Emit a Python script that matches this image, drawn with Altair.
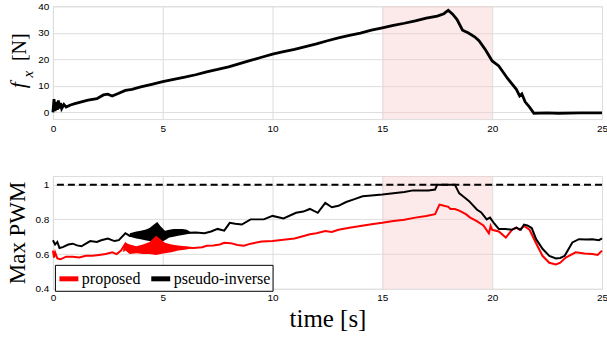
import altair as alt
import pandas as pd

# ---------------- data ----------------
t_fx = [0, 0.05, 0.1, 0.15, 0.2, 0.25, 0.3, 0.35, 0.4, 0.5, 0.6, 0.8, 1.0, 1.3, 1.6, 2.0, 2.3, 2.5,
        2.7, 3.0, 3.3, 3.6, 4.0, 4.5, 5.0, 5.5, 6.0, 6.5, 7.0, 7.5, 8.0, 8.5, 9.0, 9.5, 10.0, 10.5,
        11.0, 11.5, 12.0, 12.5, 13.0, 13.5, 14.0, 14.5, 15.0, 15.5, 16.0, 16.5, 17.0, 17.5, 17.8,
        18.0, 18.2, 18.4, 18.65, 18.9, 19.2, 19.4, 19.7, 20.0, 20.3, 20.7, 21.1, 21.25, 21.35, 21.5,
        21.7, 21.9, 22.5, 23.0, 24.0, 25.0]
fx = [0, 5, 0.5, 4, 1, 4.5, 1.5, 3.5, 1.5, 3, 2, 2.8, 3.3, 4, 4.6, 5.2, 6.6, 6.9,
      6.2, 7.2, 8.3, 8.7, 9.6, 10.6, 11.6, 12.5, 13.3, 14.2, 15.3, 16.2, 17.2, 18.4, 19.6, 20.8, 22.0, 22.9,
      23.8, 24.8, 25.8, 27.0, 28.1, 29.0, 29.9, 31.0, 31.9, 32.8, 33.6, 34.5, 35.5, 36.3, 37.2,
      38.5, 37.0, 35.0, 31.0, 30.0, 28.5, 27.0, 23.5, 19.4, 17.5, 12.8, 8.7, 6.2, 7.0, 4.0,
      2.0, -0.3, -0.2, -0.3, -0.2, -0.2]

t_prop = [0, 0.05, 0.1, 0.2, 0.35, 0.6, 0.9, 1.2, 1.5, 1.8, 2.1, 2.4, 2.7, 2.9, 3.1, 3.3, 3.45,
          3.7, 4.0, 4.3, 4.6, 4.9, 5.2, 5.5, 5.8, 6.1,
          6.4, 6.8, 7.0, 7.3, 7.6, 7.8, 8.1, 8.4, 8.7, 9.0, 9.5, 10.0, 10.5, 11.0, 11.3, 11.7, 12.0,
          12.4, 12.7, 13.0, 13.5, 14.0, 14.5, 15.0, 15.5, 16.0, 16.5, 17.0, 17.4, 17.6, 17.8, 18.0,
          18.1, 18.3, 18.5, 18.8, 19.0, 19.3, 19.6, 19.85, 19.93, 20.0, 20.3, 20.62, 20.92, 21.1,
          21.25, 21.45, 21.7, 21.98, 22.29, 22.6, 22.9, 23.1, 23.35, 23.8, 24.2, 24.56, 24.8, 25.0]
v_prop = [0.62, 0.58, 0.61, 0.575, 0.57, 0.585, 0.585, 0.58, 0.59, 0.59, 0.595, 0.6, 0.61, 0.6, 0.62, 0.66, 0.63,
          0.625, 0.63, 0.635, 0.64, 0.645, 0.635, 0.635, 0.635, 0.638,
          0.635, 0.64, 0.648, 0.65, 0.655, 0.665, 0.663, 0.652, 0.648, 0.66, 0.672, 0.675, 0.683, 0.69, 0.7, 0.714, 0.72,
          0.733, 0.728, 0.74, 0.752, 0.762, 0.772, 0.78, 0.79, 0.798, 0.81, 0.82, 0.83, 0.885, 0.878, 0.872,
          0.86, 0.86, 0.85, 0.83, 0.81, 0.79, 0.765, 0.72, 0.762, 0.74, 0.73, 0.695, 0.743, 0.752,
          0.74, 0.762, 0.74, 0.667, 0.59, 0.55, 0.54, 0.55, 0.58, 0.61, 0.603, 0.6, 0.595, 0.62]

t_pinv = [0, 0.1, 0.2, 0.3, 0.45, 0.7, 0.9, 1.1, 1.3, 1.5, 1.7, 2.0, 2.2, 2.5, 2.8, 3.0, 3.3, 3.5,
          3.8, 4.1, 4.4, 4.7, 5.0, 5.3, 5.6, 5.9, 6.2,
          6.5, 6.9, 7.2, 7.5, 7.8, 8.05, 8.3, 8.6, 9.0, 9.6, 10.0, 10.5, 11.07, 11.4, 11.7, 12.06,
          12.4, 12.7, 13.0, 13.35, 13.7, 14.1, 14.5, 15.0, 15.5, 16.0, 16.4, 17.1, 17.4, 17.5, 18.3,
          18.5, 18.7, 18.95, 19.3, 19.5, 19.75, 19.9, 20.1, 20.3, 20.6, 20.9, 21.1, 21.3, 21.45, 21.6,
          21.8, 22.0, 22.3, 22.6, 22.9, 23.1, 23.3, 23.65, 23.95, 24.3, 24.56, 24.86, 25.0]
v_pinv = [0.68, 0.655, 0.67, 0.635, 0.64, 0.655, 0.66, 0.65, 0.645, 0.66, 0.675, 0.67, 0.68, 0.69, 0.675, 0.68, 0.72, 0.705,
          0.71, 0.71, 0.712, 0.72, 0.705, 0.718, 0.723, 0.728, 0.723,
          0.725, 0.72, 0.73, 0.745, 0.735, 0.78, 0.775, 0.77, 0.8, 0.8, 0.82, 0.805, 0.838, 0.845, 0.86, 0.838,
          0.895, 0.87, 0.878, 0.9, 0.915, 0.933, 0.938, 0.943, 0.95, 0.958, 0.967, 0.967, 0.972, 1.0, 1.0,
          0.95, 0.93, 0.905, 0.857, 0.84, 0.8, 0.81, 0.775, 0.745, 0.745, 0.74, 0.752, 0.74, 0.77, 0.765,
          0.75, 0.686, 0.629, 0.59, 0.575, 0.578, 0.59, 0.667, 0.686, 0.684, 0.686, 0.68, 0.69]

# oscillation envelopes (dense vibration between 3 s and 6 s)
t_env_prop = [3.2, 3.3, 3.5, 3.8, 4.1, 4.4, 4.7, 4.9, 5.1, 5.4, 5.7, 6.0, 6.3]
hi_env_prop = [0.63, 0.665, 0.655, 0.645, 0.655, 0.67, 0.705, 0.685, 0.665, 0.655, 0.65, 0.645, 0.64]
lo_env_prop = [0.61, 0.62, 0.6, 0.605, 0.6, 0.6, 0.595, 0.6, 0.605, 0.61, 0.62, 0.625, 0.632]
t_env_pinv = [3.5, 3.8, 4.0, 4.2, 4.4, 4.6, 4.75, 4.9, 5.1, 5.3, 5.5, 5.7, 5.9, 6.1, 6.3]
hi_env_pinv = [0.72, 0.73, 0.735, 0.74, 0.75, 0.77, 0.785, 0.76, 0.735, 0.74, 0.745, 0.745, 0.745, 0.74, 0.725]
lo_env_pinv = [0.70, 0.69, 0.685, 0.68, 0.675, 0.67, 0.665, 0.67, 0.68, 0.695, 0.7, 0.705, 0.71, 0.715, 0.72]

band_start = [15]
band_end = [20]
limit_value = [1.0]
series_names = ["proposed", "pseudo-inverse"]
series_colors = ["#ff0000", "#000000"]

x_ticks = [0, 5, 10, 15, 20, 25]
fx_ticks = [0, 10, 20, 30, 40]
pwm_ticks = [0.4, 0.6, 0.8, 1.0]

# ---------------- frames ----------------
df_fx = pd.DataFrame({"t": t_fx, "f": fx})
df_pwm = pd.concat([
    pd.DataFrame({"t": t_prop, "v": v_prop, "s": series_names[0]}),
    pd.DataFrame({"t": t_pinv, "v": v_pinv, "s": series_names[1]}),
])
df_env_prop = pd.DataFrame({"t": t_env_prop, "lo": lo_env_prop, "hi": hi_env_prop})
df_env_pinv = pd.DataFrame({"t": t_env_pinv, "lo": lo_env_pinv, "hi": hi_env_pinv})
df_band = pd.DataFrame({"a": band_start, "b": band_end})
df_lim = pd.DataFrame({"y": limit_value})
one = pd.DataFrame({"k": [0]})

W, H = 550, 113
SERIF = "Liberation Serif"
SANS = "Liberation Sans"

x_scale = alt.Scale(domain=[0, 25], nice=False, zero=False)
fx_scale = alt.Scale(domain=[-2.5, 40], nice=False, zero=False)
pwm_scale = alt.Scale(domain=[0.4, 1.05], nice=False, zero=False)
color_scale = alt.Scale(domain=series_names, range=series_colors)


def xaxis(title=None):
    kw = dict(values=x_ticks, grid=True, labelPadding=4, ticks=False, domain=False,
              labelFlush=False)
    if title:
        kw.update(title=title, titleFont=SERIF, titleFontSize=25, titleFontWeight="normal",
                  titleColor="#000000", titlePadding=4)
    else:
        kw.update(title=None)
    return alt.Axis(**kw)


fx_axis = alt.Axis(values=fx_ticks, grid=True, title=None, labelPadding=4, ticks=False,
                   domain=False, labelFlush=False)
pwm_axis = alt.Axis(values=pwm_ticks, format="~g", grid=True, title=None, labelPadding=4,
                    ticks=False, domain=False, labelFlush=False)

band_color = "#f8c8c8"

# ---- top panel ----
top_band = alt.Chart(df_band).mark_rect(color=band_color, opacity=0.4).encode(
    x=alt.X("a:Q", scale=x_scale, axis=xaxis()), x2="b:Q")
top_line = alt.Chart(df_fx).mark_line(color="#000000", strokeWidth=2.8).encode(
    x=alt.X("t:Q", scale=x_scale, axis=xaxis()),
    y=alt.Y("f:Q", scale=fx_scale, axis=fx_axis))
t_f = alt.Chart(one).mark_text(text="f", font=SERIF, fontSize=22, fontStyle="italic", angle=270,
                               align="center", baseline="middle", color="#000000").encode(
    x=alt.value(-35), y=alt.value(79))
t_x = alt.Chart(one).mark_text(text="x", font=SERIF, fontSize=15, fontStyle="italic", angle=270,
                               align="center", baseline="middle", color="#000000").encode(
    x=alt.value(-25), y=alt.value(68))
t_n = alt.Chart(one).mark_text(text="[N]", font=SERIF, fontSize=20, angle=270,
                               align="center", baseline="middle", color="#000000").encode(
    x=alt.value(-33), y=alt.value(41))
top = alt.layer(top_band, top_line, t_f, t_x, t_n).properties(width=W, height=H)

# ---- bottom panel ----
bot_band = alt.Chart(df_band).mark_rect(color=band_color, opacity=0.4).encode(
    x=alt.X("a:Q", scale=x_scale, axis=xaxis("time [s]")), x2="b:Q")
bot_rule = alt.Chart(df_lim).mark_rule(color="#000000", strokeWidth=2, strokeDash=[7, 4]).encode(
    y=alt.Y("y:Q", scale=pwm_scale, axis=pwm_axis))
env_prop = alt.Chart(df_env_prop).mark_area(color=series_colors[0]).encode(
    x=alt.X("t:Q", scale=x_scale, axis=xaxis("time [s]")),
    y=alt.Y("lo:Q", scale=pwm_scale, axis=pwm_axis), y2="hi:Q")
env_pinv = alt.Chart(df_env_pinv).mark_area(color=series_colors[1]).encode(
    x=alt.X("t:Q", scale=x_scale, axis=xaxis("time [s]")),
    y=alt.Y("lo:Q", scale=pwm_scale, axis=pwm_axis), y2="hi:Q")
bot_lines = alt.Chart(df_pwm).mark_line(strokeWidth=2).encode(
    x=alt.X("t:Q", scale=x_scale, axis=xaxis("time [s]")),
    y=alt.Y("v:Q", scale=pwm_scale, axis=pwm_axis),
    color=alt.Color("s:N", scale=color_scale,
                    legend=alt.Legend(title=None, orient="none", legendX=2, legendY=89,
                                      direction="horizontal", symbolType="stroke",
                                      symbolStrokeWidth=5, symbolSize=360,
                                      labelFont=SERIF, labelFontSize=16, labelColor="#000000",
                                      strokeColor="#000000", fillColor="#ffffff", padding=2,
                                      columnPadding=0, labelOffset=1, cornerRadius=0)),
)
t_pwm = alt.Chart(one).mark_text(text="Max PWM", font=SERIF, fontSize=23, angle=270,
                                 align="center", baseline="middle", color="#000000").encode(
    x=alt.value(-35), y=alt.value(57))
bottom = alt.layer(bot_band, bot_rule, env_pinv, env_prop, bot_lines, t_pwm).properties(width=W, height=H)

chart = alt.vconcat(top, bottom, spacing=41).resolve_legend(color="independent").properties(
    padding={"left": 6, "top": 0, "right": -2, "bottom": 0}
).configure_view(stroke="#8c8c8c", strokeWidth=1).configure_axis(
    gridColor="#e3e3e3", gridWidth=1, labelFont=SANS, labelFontSize=11, labelColor="#333333"
).configure(background="#ffffff")

chart.save("out.html", embed_options={"renderer": "svg", "actions": False})
